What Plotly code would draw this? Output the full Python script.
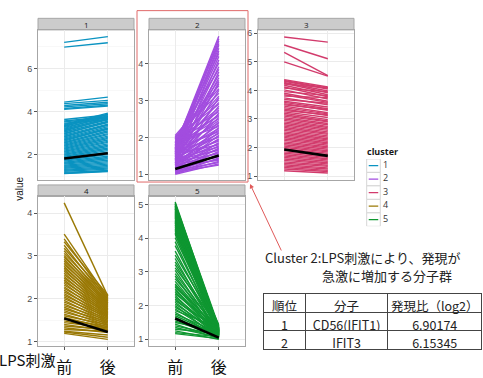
import plotly.graph_objects as go

# ---- expression profiles: value before (前) and after (後) LPS stimulation ----
c1_pre = [7.21, 6.99, 4.44, 4.37, 4.28, 4.22, 4.14, 4.10, 3.63, 3.56, 3.52, 3.46,
          3.40, 3.36, 3.33, 3.30, 3.27, 3.22, 3.18, 3.14, 3.10, 3.05, 3.00, 2.96,
          2.91, 2.86, 2.82, 2.77, 2.72, 2.68, 2.63, 2.58, 2.54, 2.49, 2.44, 2.40,
          2.35, 2.30, 2.26, 2.21, 2.16, 2.12, 2.07, 2.02, 1.98, 1.93, 1.88, 1.84,
          1.79, 1.74, 1.70, 1.65, 1.60, 1.56, 1.51, 1.46, 1.42, 1.37, 1.32, 1.28,
          1.23, 1.18, 1.14, 1.12]
c1_post = [7.48, 7.19, 4.67, 4.52, 4.43, 4.36, 4.30, 4.26, 3.84, 3.76, 3.70, 3.62,
           3.93, 3.88, 3.80, 3.86, 3.74, 3.78, 3.69, 3.62, 3.66, 3.55, 3.49, 3.52,
           3.42, 3.36, 3.39, 3.30, 3.24, 3.18, 3.21, 3.11, 3.05, 2.98, 2.93, 2.86,
           2.80, 2.75, 2.68, 2.62, 2.57, 2.50, 2.44, 2.38, 2.31, 2.25, 2.19, 2.12,
           2.06, 2.00, 1.93, 1.87, 1.81, 1.74, 1.68, 1.62, 1.56, 1.50, 1.44, 1.38,
           1.33, 1.27, 1.24, 1.22]

c2_pre = [1.75, 1.70, 1.62, 1.80, 1.55, 1.68, 1.48, 1.85, 1.60, 1.40, 1.72, 1.52,
          1.95, 1.35, 1.66, 1.45, 1.88, 1.30, 1.58,
          2.05, 1.98, 1.42, 2.02, 1.78, 1.25, 1.92, 1.65, 2.00, 1.38, 1.84, 1.55,
          1.95, 1.28, 1.72, 1.90, 1.47, 1.82,
          1.62, 1.33, 1.76, 1.50, 1.86, 1.22, 1.58, 1.40, 1.68, 1.30, 1.52, 1.18,
          1.44, 1.62, 1.26, 1.36, 1.48, 1.15, 1.32, 1.55, 1.20, 1.42, 1.10, 1.28,
          1.38, 1.08, 1.22, 1.34, 1.05, 1.18, 1.26, 1.03, 1.14, 1.22, 1.02, 1.10,
          1.00, 1.06]
c2_post = [4.75, 4.68, 4.62, 4.55, 4.50, 4.42, 4.35, 4.28, 4.20, 4.10, 4.02, 3.92,
           3.85, 3.78, 3.70, 3.62, 3.55, 3.50, 3.45,
           3.40, 3.32, 3.28, 3.20, 3.12, 3.08, 3.02, 2.95, 2.90, 2.85, 2.80, 2.75,
           2.70, 2.66, 2.62, 2.58, 2.54, 2.50,
           2.46, 2.42, 2.38, 2.34, 2.30, 2.27, 2.24, 2.20, 2.16, 2.13, 2.10, 2.06,
           2.03, 2.00, 1.96, 1.93, 1.90, 1.86, 1.83, 1.80, 1.77, 1.74, 1.71, 1.68,
           1.65, 1.62, 1.59, 1.56, 1.53, 1.50, 1.47, 1.44, 1.41, 1.38, 1.35, 1.32,
           1.28, 1.25]

c3_pre = [5.87, 5.59, 5.33, 5.00,
          4.38, 4.35, 4.32, 4.28, 4.25, 4.22, 4.18, 4.12, 4.08, 4.02, 3.96, 3.90,
          3.85, 3.80, 3.74, 3.68, 3.62,
          3.58, 3.54, 3.50, 3.45, 3.40, 3.35, 3.30, 3.25, 3.20, 3.15, 3.10, 3.05,
          3.00, 2.95, 2.90, 2.85, 2.80, 2.75, 2.70, 2.65, 2.60, 2.55, 2.50, 2.45,
          2.40, 2.35, 2.30, 2.25, 2.20, 2.15, 2.10, 2.05, 2.00, 1.95, 1.90, 1.85,
          1.80, 1.75, 1.70, 1.65, 1.60, 1.55, 1.50, 1.45, 1.40, 1.35, 1.30, 1.25,
          1.19]
c3_post = [5.69, 5.11, 4.52, 4.50,
           4.12, 4.08, 4.05, 3.98, 3.92, 4.10, 3.85, 3.78, 3.95, 3.70, 3.82, 3.62,
           3.58, 3.75, 3.50, 3.55, 3.42,
           3.36, 3.30, 3.33, 3.22, 3.18, 3.12, 3.15, 3.05, 2.98, 2.93, 2.90, 2.84,
           2.80, 2.74, 2.70, 2.65, 2.60, 2.55, 2.50, 2.46, 2.41, 2.36, 2.31, 2.27,
           2.22, 2.17, 2.13, 2.08, 2.03, 1.99, 1.94, 1.89, 1.85, 1.80, 1.75, 1.71,
           1.66, 1.61, 1.57, 1.52, 1.47, 1.43, 1.38, 1.34, 1.29, 1.25, 1.20, 1.16,
           1.11]

c4_pre = [4.24, 3.51, 3.40, 3.33, 3.25, 3.18, 3.12, 3.06, 3.01, 2.97, 2.92, 2.88,
          2.84, 2.80, 2.76, 2.72, 2.68, 2.64, 2.60, 2.56, 2.52,
          2.48, 2.44, 2.40, 2.36, 2.32, 2.28, 2.24, 2.20, 2.16, 2.12, 2.08, 2.04,
          2.00, 1.96, 1.92, 1.88, 1.84, 1.80, 1.76, 1.72, 1.68, 1.64, 1.60, 1.56,
          1.52, 1.48, 1.44, 1.40, 1.36, 1.32, 1.28, 1.24, 1.22, 1.19]
c4_post = [2.06, 2.02, 1.98, 2.08, 1.95, 2.04, 1.90, 2.00, 1.87, 1.96, 1.84, 1.93,
           1.80, 1.90, 1.76, 1.86, 1.73, 1.82, 1.70, 1.79, 1.67,
           1.76, 1.64, 1.73, 1.61, 1.70, 1.58, 1.67, 1.55, 1.63, 1.52, 1.60, 1.49,
           1.57, 1.46, 1.53, 1.43, 1.50, 1.40, 1.46, 1.37, 1.43, 1.34, 1.39, 1.31,
           1.35, 1.28, 1.32, 1.25, 1.28, 1.21, 1.24, 1.15, 1.10, 1.05]

c5_pre = [5.08, 5.04, 5.02, 4.98, 4.96, 4.93, 4.90, 4.87, 4.85, 4.81, 4.78, 4.75,
          4.72, 4.69, 4.66, 4.63, 4.60, 4.56, 4.52, 4.48, 4.45, 4.41, 4.38, 4.33,
          4.28, 4.24, 4.20, 4.16, 4.12, 4.02, 3.90, 3.78, 3.62, 3.50, 3.40, 3.30,
          3.22, 3.12, 3.05, 2.95, 2.88, 2.80, 2.72, 2.64, 2.60, 2.55, 2.50, 2.45,
          2.40, 2.35, 2.30, 2.25, 2.20, 2.15, 2.10, 2.05, 2.00, 1.95, 1.90, 1.85,
          1.80, 1.75, 1.70, 1.65, 1.60, 1.55, 1.50, 1.45, 1.40, 1.35, 1.30, 1.25,
          1.20, 1.17]
c5_post = [1.30, 1.24, 1.38, 1.20, 1.25, 1.33, 1.35, 1.16, 1.22, 1.28, 1.30, 1.12,
           1.18, 1.26, 1.28, 1.10, 1.20, 1.24, 1.32, 1.14, 1.15, 1.22, 1.25, 1.08,
           1.18, 1.27, 1.43, 1.12, 1.22, 1.30, 1.15, 1.25, 1.20, 1.35, 1.12, 1.28,
           1.18, 1.40, 1.15, 1.25, 1.10, 1.32, 1.18, 1.22, 1.12, 1.30, 1.08, 1.20,
           1.15, 1.38, 1.05, 1.22, 1.12, 1.28, 1.08, 1.18, 1.02, 1.25, 1.10, 1.35,
           1.05, 1.20, 1.12, 1.02, 1.15, 1.08, 1.25, 1.02, 1.12, 1.05, 1.18, 1.00,
           1.08, 1.02]

# cluster mean profiles (black lines)
mean_pre = [1.82, 1.14, 1.93, 1.54, 1.62]
mean_post = [2.07, 1.51, 1.71, 1.22, 1.05]

clusters = ["1", "2", "3", "4", "5"]
colors = ["#0a93c1", "#a24ddf", "#d23b6c", "#9a7905", "#0f9731"]
pre_vals = [c1_pre, c2_pre, c3_pre, c4_pre, c5_pre]
post_vals = [c1_post, c2_post, c3_post, c4_post, c5_post]

# per-panel y axis settings
y_ranges = [[0.82, 7.79], [0.84, 4.92], [0.86, 6.12], [0.90, 4.39], [0.81, 5.24]]
y_dticks = [2, 1, 1, 1, 1]

x_ticks = [0, 1]
x_text = ["前", "後"]
x_prefix = "LPS刺激"

# summary table of cluster 2
rank = ["1", "2"]
molecule = ["CD56(IFIT1)", "IFIT3"]
log2_ratio = ["6.90174", "6.15345"]
header = ["順位", "分子", "発現比（log2）"]

W, H = 483, 378
def px(x):
    return x / W
def py(y):
    return 1 - y / H

cols = [(38, 134), (149, 245), (258, 354)]
rows = [(30, 186), (203, 358)]
strips = [(18, 30), (191, 203)]
cells_pos = [(0, 0), (1, 0), (2, 0), (0, 1), (1, 1)]

fig = go.Figure()
layout = {}
shapes = []
annotations = []

grid_c = "#ebebeb"
tick_c = "#555555"
border_c = "#a6a6a6"
cjk = "Noto Sans CJK JP"

for i, name in enumerate(clusters):
    ci, ri = cells_pos[i]
    sfx = "" if i == 0 else str(i + 1)
    xs, ys = [], []
    for a, b in zip(pre_vals[i], post_vals[i]):
        xs += [0, 1, None]
        ys += [a, b, None]
    fig.add_trace(go.Scatter(
        x=xs, y=ys, mode="lines", name=name, showlegend=False,
        line=dict(color=colors[i], width=1.4),
        xaxis="x" + sfx, yaxis="y" + sfx, hoverinfo="skip"))
    fig.add_trace(go.Scatter(
        x=x_ticks, y=[mean_pre[i], mean_post[i]], mode="lines",
        line=dict(color="black", width=2.6), showlegend=False,
        xaxis="x" + sfx, yaxis="y" + sfx, hoverinfo="skip"))

    x0, x1 = cols[ci]
    y0, y1 = rows[ri]
    bottom = ri == 1
    layout["xaxis" + sfx] = dict(
        domain=[px(x0), px(x1)], anchor="y" + sfx, range=[-0.6, 1.6],
        tickvals=x_ticks, ticktext=x_text if bottom else ["", ""],
        showticklabels=bottom, ticks="outside" if bottom else "",
        ticklen=3, tickcolor=tick_c, ticklabelstandoff=4,
        tickfont=dict(size=16, color="#111111", family=cjk),
        showgrid=True, gridcolor=grid_c, gridwidth=1, zeroline=False,
        showline=True, mirror=True, linecolor=border_c, linewidth=1)
    layout["yaxis" + sfx] = dict(
        domain=[py(y1), py(y0)], anchor="x" + sfx, range=y_ranges[i],
        dtick=y_dticks[i], tick0=0, ticks="outside", ticklen=3,
        tickcolor=tick_c, tickfont=dict(size=9, color="#4d4d4d", family="Liberation Sans"),
        showgrid=True, gridcolor=grid_c, gridwidth=1, zeroline=False,
        minor=dict(showgrid=True, gridcolor="#f8f8f8", dtick=y_dticks[i] / 2),
        showline=True, mirror=True, linecolor=border_c, linewidth=1)

    s0, s1 = strips[ri]
    shapes.append(dict(type="rect", xref="paper", yref="paper",
                       x0=px(x0), x1=px(x1), y0=py(s1), y1=py(s0),
                       fillcolor="#cccccc", line=dict(color=border_c, width=1),
                       layer="below"))
    annotations.append(dict(text=name, xref="paper", yref="paper",
                            x=px((x0 + x1) / 2), y=py((s0 + s1) / 2),
                            showarrow=False, font=dict(size=8, color="#1a1a1a"),
                            xanchor="center", yanchor="middle"))

# prefix for the first x tick of panel 4
annotations.append(dict(text=x_prefix, xref="x4", yref="paper", x=0, y=py(372),
                        xshift=-7, xanchor="right", yanchor="middle", showarrow=False,
                        font=dict(size=15, color="#111111", family=cjk)))

# y axis title
annotations.append(dict(text="value", xref="paper", yref="paper", x=px(20), y=py(195),
                        textangle=-90, showarrow=False, xanchor="center", yanchor="middle",
                        font=dict(size=10, color="#1a1a1a", family="Liberation Sans")))

# ---- cluster legend drawn on its own small axis ----
leg_y = [1, 2, 3, 4, 5]
for k, name in enumerate(clusters):
    fig.add_trace(go.Scatter(
        x=[0.08, 0.36], y=[leg_y[k], leg_y[k]], mode="lines",
        line=dict(color=colors[k], width=1.1), showlegend=False,
        xaxis="x6", yaxis="y6", hoverinfo="skip"))
    shapes.append(dict(type="rect", xref="x6", yref="y6",
                       x0=0.02, x1=0.42, y0=leg_y[k] - 0.5, y1=leg_y[k] + 0.5,
                       line=dict(color="#d6d6d6", width=1), fillcolor="white",
                       layer="below"))
fig.add_trace(go.Scatter(
    x=[0.5] * len(clusters), y=leg_y, mode="text", text=clusters,
    textposition="middle right", textfont=dict(size=9, color="#333333"),
    showlegend=False, xaxis="x6", yaxis="y6", hoverinfo="skip"))
layout["xaxis6"] = dict(domain=[px(366), px(400)], anchor="y6", range=[0, 1],
                        visible=False, fixedrange=True)
layout["yaxis6"] = dict(domain=[py(234), py(164)], anchor="x6", range=[5.5, 0.5],
                        visible=False, fixedrange=True)
annotations.append(dict(text="<b>cluster</b>", xref="paper", yref="paper",
                        x=px(365), y=py(156), xanchor="left", yanchor="middle",
                        showarrow=False, font=dict(size=9, color="#1a1a1a")))

# highlight of cluster 2 and pointer
shapes.append(dict(type="rect", xref="paper", yref="paper",
                   x0=px(137), x1=px(248), y0=py(188), y1=py(10),
                   line=dict(color="#e06a6a", width=1), fillcolor="rgba(0,0,0,0)"))
annotations.append(dict(text="", xref="paper", yref="paper", x=px(250), y=py(190),
                        ax=32, ay=68, showarrow=True, arrowhead=2, arrowsize=0.9,
                        arrowwidth=1, arrowcolor="#e05a5a"))

annotations.append(dict(text="Cluster 2:LPS刺激により、発現が", xref="paper", yref="paper",
                        x=px(263), y=py(266), xanchor="left", yanchor="middle",
                        showarrow=False, font=dict(size=13, color="#222222", family=cjk)))
annotations.append(dict(text="急激に増加する分子群", xref="paper", yref="paper",
                        x=px(320), y=py(285), xanchor="left", yanchor="middle",
                        showarrow=False, font=dict(size=13, color="#222222", family=cjk)))

fig.add_trace(go.Table(
    domain=dict(x=[px(263.5), px(482.5)], y=[py(376), py(304)]),
    columnwidth=[42, 83, 94],
    header=dict(values=header, height=18.5, align="center",
                fill_color="white", line=dict(color="#444444", width=1),
                font=dict(size=12.5, color="#222222", family=cjk)),
    cells=dict(values=[rank, molecule, log2_ratio], height=18.5, align="center",
               fill_color="white", line=dict(color="#444444", width=1),
               font=dict(size=12.5, color="#222222", family=cjk))))

fig.update_layout(
    width=W, height=H, margin=dict(l=0, r=0, t=0, b=0),
    paper_bgcolor="white", plot_bgcolor="white", showlegend=False,
    shapes=shapes, annotations=annotations,
    **layout)

fig.write_html("out.html")
